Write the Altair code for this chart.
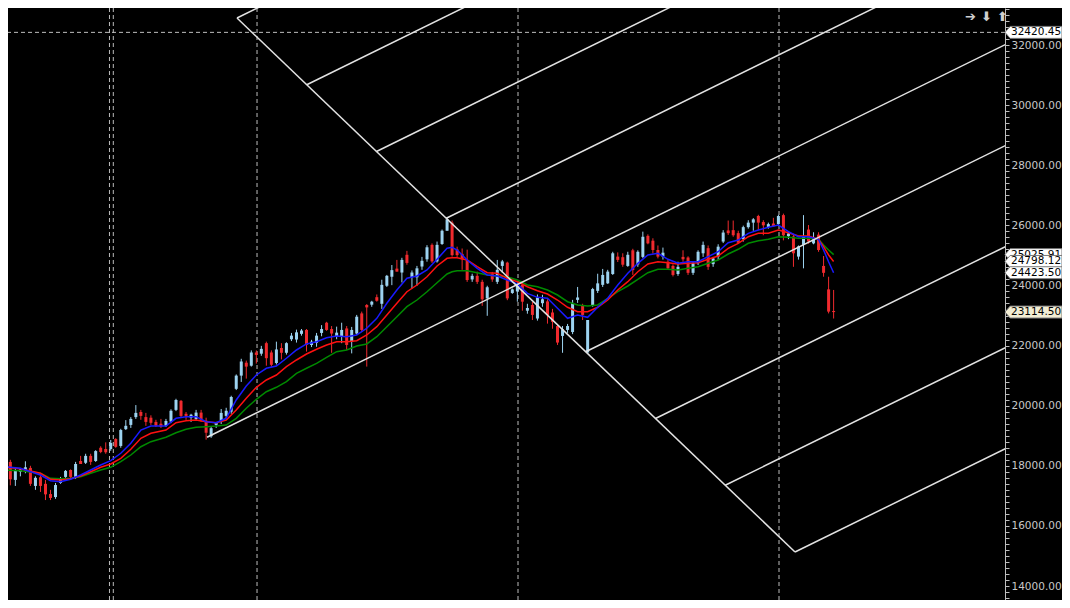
import altair as alt
import pandas as pd

# ---------------- weekly candles (index 0..166) ----------------
opens = [
    17900, 18050, 18130, 17530, 17800, 17850, 17930, 17330, 17620, 17400,
    17060, 16960, 17430, 17630, 17860, 17630, 18160, 18100, 18330, 18160,
    18600, 18560, 18560, 18890, 18660, 19220, 19360, 19620, 19790, 19620,
    19600, 19460, 19400, 19330, 19470, 19860, 20160, 19730, 19600, 19560,
    19770, 19500, 18980, 19360, 19500, 19660, 19800, 20560, 21000, 21430,
    21330, 21770, 21730, 22080, 21770, 21420, 21920, 21760, 22210, 22200,
    22390, 22520, 22020, 22090, 22420, 22760, 22550, 22300, 22300, 22570,
    22130, 22400, 23070, 23350, 23360, 23610, 23390, 23990, 24290, 24560,
    24430, 25020, 24280, 24270, 24630, 24870, 25350, 24800, 25380, 25820,
    26090, 25200, 25050, 24850, 24200, 24320, 24120, 23570, 24390, 24120,
    24650, 24760, 23750, 23800, 24020, 23160, 23350, 22900, 23410, 23470,
    23100, 22650, 22320, 22520, 22450, 23520, 23320, 21770, 23350, 23820,
    24020, 24070, 24380, 24960, 24940, 24650, 25170, 24700, 24950, 25650,
    25490, 25180, 24960, 24790, 24650, 24380, 24950, 24930, 24420, 24740,
    25070, 25240, 24710, 24960, 25460, 25830, 25840, 25740, 25540, 25940,
    26090, 26310, 26110, 25940, 26060, 26040, 26340, 25640, 25630, 24960,
    25350, 25860, 25400, 25690, 24650, 23870, 23150]
highs = [
    18160, 18200, 18200, 17960, 17930, 18150, 18000, 17650, 17750, 17530,
    17200, 17430, 17630, 17860, 17880, 18130, 18330, 18400, 18400, 18520,
    18650, 18780, 18860, 18920, 19230, 19520, 19620, 20020, 19860, 19760,
    19680, 19530, 19560, 19560, 19880, 20230, 20190, 19790, 19730, 19860,
    19860, 19600, 19300, 19460, 19890, 19930, 20330, 21040, 21560, 21500,
    21840, 21840, 21990, 22130, 21840, 22130, 22080, 22110, 22420, 22530,
    22550, 22550, 22190, 22420, 22680, 22790, 22650, 22630, 22760, 22650,
    22620, 23020, 23130, 23380, 23490, 23700, 24190, 24350, 24680, 24850,
    24920, 25150, 24500, 24650, 24950, 25340, 25400, 25460, 25860, 26280,
    26160, 25290, 25230, 25190, 24390, 24460, 24190, 23990, 24450, 24850,
    24850, 24790, 23900, 24060, 24090, 23390, 23450, 23700, 23690, 23540,
    23220, 22720, 22650, 22720, 23520, 23950, 23390, 22850, 23920, 24390,
    24550, 24520, 25120, 25100, 25070, 25120, 25220, 25170, 25790, 25700,
    25570, 25330, 25260, 24850, 24700, 24790, 25170, 24970, 24790, 25170,
    25460, 25330, 24950, 25370, 25840, 26160, 26160, 25820, 25990, 26170,
    26240, 26350, 26170, 26090, 26250, 26350, 26390, 25800, 25690, 25330,
    26340, 26010, 25770, 25770, 24980, 24290, 23850]
lows = [
    17760, 17900, 17350, 17330, 17650, 17750, 17330, 17200, 17130, 16860,
    16860, 16900, 17400, 17560, 17560, 17560, 18060, 18060, 18030, 18130,
    18420, 18400, 18500, 18600, 18600, 19190, 19260, 19560, 19530, 19330,
    19360, 19290, 19260, 19290, 19420, 19820, 19590, 19530, 19460, 19490,
    19460, 18870, 18930, 19260, 19390, 19590, 19730, 20520, 20790, 20900,
    21300, 21400, 21660, 21330, 21300, 21370, 21540, 21700, 22150, 22100,
    22330, 21800, 21950, 21960, 22310, 22490, 21760, 22210, 22080, 21860,
    21740, 22360, 22450, 21300, 23290, 23460, 23220, 23950, 24010, 24460,
    24100, 24690, 23900, 23990, 24520, 24790, 24750, 24760, 25350, 25820,
    24960, 24950, 24520, 24120, 24120, 24050, 23320, 22990, 24120, 24050,
    24420, 23510, 23720, 23460, 23160, 23060, 22850, 22830, 23290, 22730,
    22560, 22020, 21760, 22420, 22380, 23420, 22850, 21740, 23290, 23750,
    23950, 24050, 24350, 24780, 24620, 24620, 24350, 24620, 24910, 25370,
    25060, 24900, 24860, 24520, 24300, 24320, 24790, 24350, 24350, 24680,
    24950, 24520, 24620, 24850, 25410, 25680, 25620, 25390, 25460, 25890,
    25820, 25840, 25670, 25890, 25960, 26000, 25500, 25540, 24620, 24860,
    24570, 25390, 25370, 25120, 24290, 23070, 22900]
closes = [
    18030, 17980, 17550, 17860, 17880, 17950, 17400, 17600, 17330, 17050,
    16930, 17360, 17570, 17830, 17630, 18060, 18060, 18330, 18130, 18490,
    18460, 18450, 18760, 18630, 19190, 19330, 19560, 19760, 19660, 19460,
    19430, 19330, 19300, 19490, 19830, 20190, 19660, 19660, 19700, 19770,
    19530, 19100, 19250, 19430, 19760, 19830, 20290, 21000, 21470, 21300,
    21770, 21690, 21890, 21580, 21360, 21870, 21760, 22080, 22330, 22440,
    22500, 22020, 22130, 22330, 22550, 22520, 22400, 22430, 22520, 22020,
    22520, 22960, 22520, 23270, 23460, 23490, 24020, 24320, 24510, 24460,
    24850, 24750, 24430, 24570, 24820, 25270, 24800, 25350, 25820, 26200,
    25010, 25010, 24870, 24180, 24320, 24120, 23540, 23940, 24200, 24520,
    24800, 23570, 23870, 23990, 23460, 23250, 23020, 23600, 23540, 23020,
    22790, 22100, 22540, 22650, 23420, 23600, 23020, 22850, 23880, 24070,
    24350, 24460, 25070, 24850, 24690, 25020, 24510, 25120, 25620, 25400,
    25180, 24960, 25090, 24570, 24350, 24620, 24870, 24420, 24740, 25120,
    25350, 24620, 24900, 25290, 25760, 25740, 25670, 25420, 25940, 26090,
    26200, 26090, 26000, 26040, 25970, 26310, 25670, 25730, 25070, 25300,
    25640, 25460, 25540, 25180, 24420, 23130, 23114.5]
week = list(range(len(closes)))

# ---------------- moving averages ----------------
ma_week = [0, 4, 8, 10, 12, 14, 16, 18, 20, 22, 24, 26, 28, 30,
           33, 35, 37, 39, 41, 43, 45, 47, 49, 51, 53, 55, 57, 59, 61, 63, 65, 67,
           69, 71, 73, 75, 77, 79, 81, 83, 85, 87, 89, 90, 91, 93, 95, 97, 99, 101,
           103, 105, 107, 109, 111, 113, 115, 117, 119, 121, 123, 125, 127, 129, 131, 133, 135,
           137, 139, 141, 143, 145, 147, 149, 151, 153, 155, 157, 159, 161, 163,
           164, 165, 166]
ma_blue = [17993, 17917, 17694, 17504, 17471, 17551, 17694, 17860, 18026, 18170, 18416, 18748, 19191, 19324,
           19324, 19580, 19634, 19634, 19467, 19434, 19580, 20189, 20655, 21021, 21244, 21321, 21577, 21853, 22053, 22129, 22262, 22318,
           22295, 22352, 22575, 22907, 23406, 23849, 24238, 24314, 24514, 24870, 25236, 25269, 25180, 24847, 24571, 24348, 24314, 24181,
           24048, 23738, 23605, 23572, 23239, 22907, 23017, 22940, 23273, 23572, 24015, 24404, 24737, 25013, 25070, 24870, 24737,
           24790, 24790, 24957, 25123, 25422, 25512, 25735, 25845, 25935, 26011, 25788, 25622, 25622, 25535,
           25180, 24790, 24423.50]
ma_red = [17970, 17903, 17750, 17551, 17527, 17571, 17660, 17804, 17950, 18060, 18249, 18549, 18915, 19081,
          19191, 19434, 19501, 19524, 19467, 19434, 19524, 19856, 20246, 20612, 20855, 21021, 21297, 21520, 21720, 21876, 22019, 22129,
          22129, 22162, 22352, 22628, 23017, 23406, 23792, 24015, 24291, 24647, 24903, 24923, 24923, 24847, 24624, 24424, 24404, 24238,
          24125, 23958, 23825, 23715, 23516, 23273, 23127, 23127, 23273, 23516, 23849, 24125, 24457, 24714, 24790, 24757, 24714,
          24737, 24757, 24870, 24980, 25236, 25402, 25622, 25735, 25735, 25845, 25755, 25645, 25645, 25535,
          25290, 25013, 24798.12]
ma_green = [17860, 17837, 17750, 17584, 17571, 17584, 17637, 17750, 17860, 17950, 18136, 18359, 18635, 18802,
            18948, 19101, 19214, 19281, 19301, 19324, 19357, 19580, 19913, 20212, 20465, 20612, 20798, 21077, 21244, 21410, 21610, 21796,
            21853, 21986, 22053, 22295, 22628, 22960, 23293, 23516, 23792, 24092, 24381, 24457, 24491, 24491, 24424, 24348, 24314, 24291,
            24181, 24015, 23958, 23849, 23682, 23459, 23350, 23317, 23350, 23572, 23792, 23982, 24205, 24424, 24537, 24537, 24514,
            24571, 24624, 24737, 24847, 25046, 25203, 25402, 25489, 25535, 25622, 25602, 25569, 25569, 25535,
            25346, 25180, 25025.91]

# ---------------- drawn lines (Gann-style fan) ----------------
diag_week = [47.15, 158.31]
diag_price = [32898, 15132]
ray_week_start = [47.15, 61.05, 74.94, 88.84, 41.18, 116.62, 130.52, 144.41, 158.31]
ray_price_start = [32898, 30677, 28456, 26236, 18950, 21794, 19573, 17352, 15132]
ray_week_end = [205, 205, 205, 205, 205, 205, 205, 205, 205]
ray_price_end = [45851, 42490, 39129, 35768, 32407, 29046, 25685, 22324, 18963]

vline_week = [21.75, 22.51, 51.14, 103.13, 155.12]
hline_price = [32420.45]

tag_price = [32420.45, 25025.91, 24798.12, 24423.50, 23114.50]
tag_text = ["32420.45", "25025.91", "24798.12", "24423.50", "23114.50"]
tag_fill = ["#ffffff", "#ffffff", "#ffffff", "#ffffff", "#f2edd3"]

axis_minor = list(range(13600, 33201, 200))

# ---------------- styling ----------------
UP = "#9dd3f0"
DOWN = "#f02a2e"
LINE_W = "#e2e2e2"
GRID = "#bdbdbd"
FONT = "DejaVu Sans"
PLOT_W = 997
PLOT_H = 592

xs = alt.Scale(domain=[1.534, 200.14], nice=False, zero=False)
ys = alt.Scale(domain=[13535, 33231], nice=False, zero=False)

yaxis = alt.Axis(
    orient="right", values=axis_minor,
    labelExpr="datum.value % 2000 == 0 ? format(datum.value, '.2f') : ''",
    tickSize=4, tickColor="#bdbdbd", domainColor="#bdbdbd", domainWidth=1,
    labelColor="#c8c8c8", labelFont=FONT, labelFontSize=10.5, labelPadding=2,
    labelOverlap=False, labelFlush=False, labelBound=False, grid=False, title=None,
)


def Y(field):
    return alt.Y(field, scale=ys, axis=yaxis)


def X(field):
    return alt.X(field, scale=xs, axis=None)


candles = pd.DataFrame({"week": week, "open": opens, "high": highs, "low": lows, "close": closes})
color_cond = alt.condition("datum.close >= datum.open", alt.value(UP), alt.value(DOWN))

wicks = alt.Chart(candles).mark_rule(strokeWidth=1, clip=True).encode(
    x=X("week:Q"), y=Y("low:Q"), y2="high:Q", color=color_cond,
)
bodies = alt.Chart(candles).mark_rule(strokeWidth=3, clip=True).encode(
    x=X("week:Q"), y=Y("open:Q"), y2="close:Q", color=color_cond,
)

ma = pd.DataFrame({"week": ma_week, "blue": ma_blue, "red": ma_red, "green": ma_green})
ma_layers = []
for col, c in [("green", "#008a00"), ("red", "#ff1010"), ("blue", "#1a1aff")]:
    ma_layers.append(
        alt.Chart(ma).mark_line(color=c, strokeWidth=1.5, clip=True).encode(
            x=X("week:Q"), y=Y(f"{col}:Q"),
        )
    )

vlines = alt.Chart(pd.DataFrame({"week": vline_week})).mark_rule(
    color=GRID, strokeWidth=1, strokeDash=[4, 3], clip=True
).encode(x=X("week:Q"))

hlines = alt.Chart(pd.DataFrame({"price": hline_price})).mark_rule(
    color=GRID, strokeWidth=1, strokeDash=[4, 3], clip=True
).encode(y=Y("price:Q"))

segs = pd.DataFrame({
    "x1": [diag_week[0]] + ray_week_start,
    "y1": [diag_price[0]] + ray_price_start,
    "x2": [diag_week[1]] + ray_week_end,
    "y2": [diag_price[1]] + ray_price_end,
})
fan = alt.Chart(segs).mark_rule(color=LINE_W, strokeWidth=1.5, clip=True).encode(
    x=X("x1:Q"), y=Y("y1:Q"), x2="x2:Q", y2="y2:Q",
)

TAG_W = 57
TAG_PATH = "M-1,0L-0.82,-0.21L1,-0.21L1,0.21L-0.82,0.21Z"
tag_layers = []
for p, t, f in zip(tag_price, tag_text, tag_fill):
    d = pd.DataFrame({"price": [p], "label": [t]})
    tag_layers.append(
        alt.Chart(d).mark_point(
            shape=TAG_PATH, size=TAG_W * TAG_W, filled=True, fill=f, stroke="#7a7a7a",
            strokeWidth=1, opacity=1, fillOpacity=1, clip=False,
        ).encode(x=alt.value(PLOT_W + TAG_W / 2), y=Y("price:Q"))
    )
    tag_layers.append(
        alt.Chart(d).mark_text(
            align="left", baseline="middle", font=FONT, fontSize=10.5, color="#000000", clip=False,
        ).encode(x=alt.value(PLOT_W + 6), y=Y("price:Q"), text="label:N")
    )

arrows = alt.Chart(pd.DataFrame({"t": ["➔", "⬇", "⬆"], "px": [957, 973, 989]})).mark_text(
    align="left", baseline="middle", font=FONT, fontSize=13, fontWeight="bold", color="#cfcfcf",
).encode(x=alt.X("px:Q", scale=None, axis=None), y=alt.value(9), text="t:N")

chart = alt.layer(
    vlines, hlines, wicks, bodies, *ma_layers, fan, *tag_layers, arrows
).properties(
    width=PLOT_W,
    height=PLOT_H,
    autosize=alt.AutoSizeParams(type="none"),
    padding={"left": 0, "top": 0, "right": TAG_W, "bottom": 0},
    background="#000000",
).configure_view(strokeWidth=0)

chart.save("out.html", embed_options={"renderer": "svg", "actions": False})
